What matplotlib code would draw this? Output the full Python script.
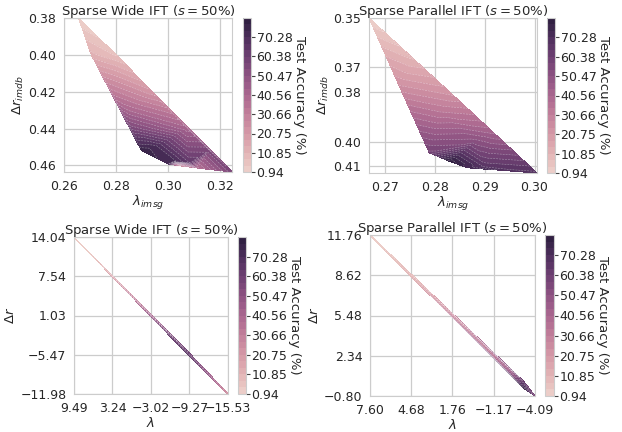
import numpy as np
import matplotlib
matplotlib.use("Agg")
import matplotlib.pyplot as plt
import matplotlib.tri as mtri
import seaborn as sns

sns.set_style("whitegrid")
plt.rcParams['font.family'] = ['DejaVu Sans']

# colour levels of the accuracy scale
acc_min = 0.94
acc_max = 80.18
n_bands = 24
cbar_ticks = [0.94, 10.85, 20.75, 30.66, 40.56, 50.47, 60.38, 70.28]

# Sparse Wide IFT, zoomed (lambda_imsg, dr_imdb, acc)
wide_zoom_x = [0.2656, 0.2705, 0.2782, 0.2860, 0.2897, 0.3000, 0.3040, 0.3110, 0.3246,
               0.2800, 0.2935, 0.3070, 0.3160, 0.2850, 0.2950, 0.3020, 0.3080]
wide_zoom_y = [0.3800, 0.4000, 0.4200, 0.4400, 0.4518, 0.4592, 0.4601, 0.4614, 0.4636,
               0.4000, 0.4200, 0.4400, 0.4520, 0.4300, 0.4500, 0.4578, 0.4586]
wide_zoom_acc = [1.0, 12.0, 32.0, 56.0, 76.0, 72.0, 22.0, 36.0, 56.0,
                 7.0, 22.0, 42.0, 56.0, 40.0, 72.0, 72.0, 64.0]

# Sparse Parallel IFT, zoomed
par_zoom_x = [0.2668, 0.2752, 0.2837, 0.2921, 0.3005, 0.2728, 0.2789, 0.2866,
              0.2745, 0.2810, 0.2880, 0.2830, 0.2900]
par_zoom_y = [0.3500, 0.3657, 0.3813, 0.3970, 0.4127, 0.3772, 0.4045, 0.4106,
              0.3720, 0.3880, 0.4000, 0.4080, 0.4100]
par_zoom_acc = [1.0, 10.0, 24.0, 44.0, 68.0, 24.0, 58.0, 72.0,
                17.0, 34.0, 52.0, 79.0, 66.0]

# Sparse Wide IFT, full range (lambda, dr, acc): ends, upper rail, lower rail
wide_x = [9.49, -15.53,
          6.00, 3.24, 0.00, -3.02, -6.00, -9.27, -12.50,
          6.00, 3.24, 0.00, -3.02, -6.00, -9.27, -12.50]
wide_y = [14.04, -11.98,
          10.46, 7.61, 4.27, 1.16, -1.91, -5.24, -8.69,
          10.36, 7.47, 4.07, 0.90, -2.27, -5.70, -8.97]
wide_acc = [1.0, 22.0,
            4.0, 10.0, 22.0, 38.0, 52.0, 58.0, 42.0,
            5.0, 14.0, 28.0, 44.0, 62.0, 66.0, 48.0]

# Sparse Parallel IFT, full range
par_x = [7.60, -4.09,
         4.68, 1.76, -1.17, -2.50, -3.30,
         4.68, 1.76, -1.17, -2.50, -3.30]
par_y = [11.76, -0.80,
         8.70, 5.61, 2.51, 1.13, 0.32,
         8.54, 5.35, 2.17, 0.69, -0.22]
par_acc = [1.0, 55.0,
           6.0, 16.0, 28.0, 40.0, 62.0,
           10.0, 24.0, 36.0, 52.0, 75.0]

panels = [
    dict(x=wide_zoom_x, y=wide_zoom_y, z=wide_zoom_acc, title=r"Sparse Wide IFT ($s=50\%$)",
         xlabel=r"$\lambda_{imsg}$", ylabel=r"$\Delta r_{imdb}$",
         xlim=(0.26, 0.3246), ylim=(0.4636, 0.38),
         xticks=[0.26, 0.28, 0.30, 0.32], yticks=[0.38, 0.40, 0.42, 0.44, 0.46],
         ax=[64, 18, 232, 172], cax=[243, 251]),
    dict(x=par_zoom_x, y=par_zoom_y, z=par_zoom_acc, title=r"Sparse Parallel IFT ($s=50\%$)",
         xlabel=r"$\lambda_{imsg}$", ylabel=r"$\Delta r_{imdb}$",
         xlim=(0.2668, 0.3005), ylim=(0.4127, 0.35),
         xticks=[0.27, 0.28, 0.29, 0.30], yticks=[0.35, 0.37, 0.38, 0.40, 0.41],
         ax=[369, 18, 537, 173], cax=[547, 555]),
    dict(x=wide_x, y=wide_y, z=wide_acc, title=r"Sparse Wide IFT ($s=50\%$)",
         xlabel=r"$\lambda$", ylabel=r"$\Delta r$",
         xlim=(9.49, -15.53), ylim=(-11.98, 14.04),
         xticks=[9.49, 3.24, -3.02, -9.27, -15.53], yticks=[14.04, 7.54, 1.03, -5.47, -11.98],
         ax=[74, 237, 228, 394], cax=[238, 246]),
    dict(x=par_x, y=par_y, z=par_acc, title=r"Sparse Parallel IFT ($s=50\%$)",
         xlabel=r"$\lambda$", ylabel=r"$\Delta r$",
         xlim=(7.60, -4.09), ylim=(-0.80, 11.76),
         xticks=[7.60, 4.68, 1.76, -1.17, -4.09], yticks=[11.76, 8.62, 5.48, 2.34, -0.80],
         ax=[370, 235, 535, 396], cax=[545, 554]),
]

W, H = 622, 432
fig = plt.figure(figsize=(W / 100, H / 100), dpi=100)
cmap = sns.cubehelix_palette(as_cmap=True)
levels = np.linspace(acc_min, acc_max, n_bands + 1)
fs = 9.5
tfs = 9


def frac(x0, y0, x1, y1):
    return [x0 / W, 1 - y1 / H, (x1 - x0) / W, (y1 - y0) / H]


def fmt(v):
    return ("%.2f" % v).replace("-", "\u2212")


for p in panels:
    x0, y0, x1, y1 = p["ax"]
    ax = fig.add_axes(frac(x0, y0, x1, y1))
    cax = fig.add_axes(frac(p["cax"][0], y0, p["cax"][1], y1))

    tri = mtri.Triangulation(p["x"], p["y"])
    cf = ax.tricontourf(tri, p["z"], levels=levels, cmap=cmap, zorder=2)
    ax.tricontour(tri, p["z"], levels=levels, colors="white", linewidths=0.4,
                  linestyles="dashed", alpha=0.45, zorder=3)

    ax.set_xlim(*p["xlim"])
    ax.set_ylim(*p["ylim"])
    ax.set_xticks(p["xticks"])
    ax.set_yticks(p["yticks"])
    ax.set_xticklabels([fmt(v) for v in p["xticks"]])
    ax.set_yticklabels([fmt(v) for v in p["yticks"]])
    ax.tick_params(labelsize=tfs, pad=2)
    ax.set_title(p["title"], fontsize=fs, pad=2)
    ax.set_xlabel(p["xlabel"], fontsize=fs, labelpad=1)
    ax.set_ylabel(p["ylabel"], fontsize=fs, labelpad=2)
    ax.set_axisbelow(True)
    ax.grid(True, color="#cccccc", linewidth=0.9)

    cb = fig.colorbar(cf, cax=cax, ticks=cbar_ticks)
    cb.set_ticklabels([fmt(v) for v in cbar_ticks])
    cb.outline.set_edgecolor("#cccccc")
    cax.tick_params(labelsize=tfs, right=True, length=3, width=0.8, color="#444444", pad=1)
    cb.set_label("Test Accuracy (%)", rotation=270, fontsize=fs, labelpad=10)

fig.savefig("out.png", dpi=100)
